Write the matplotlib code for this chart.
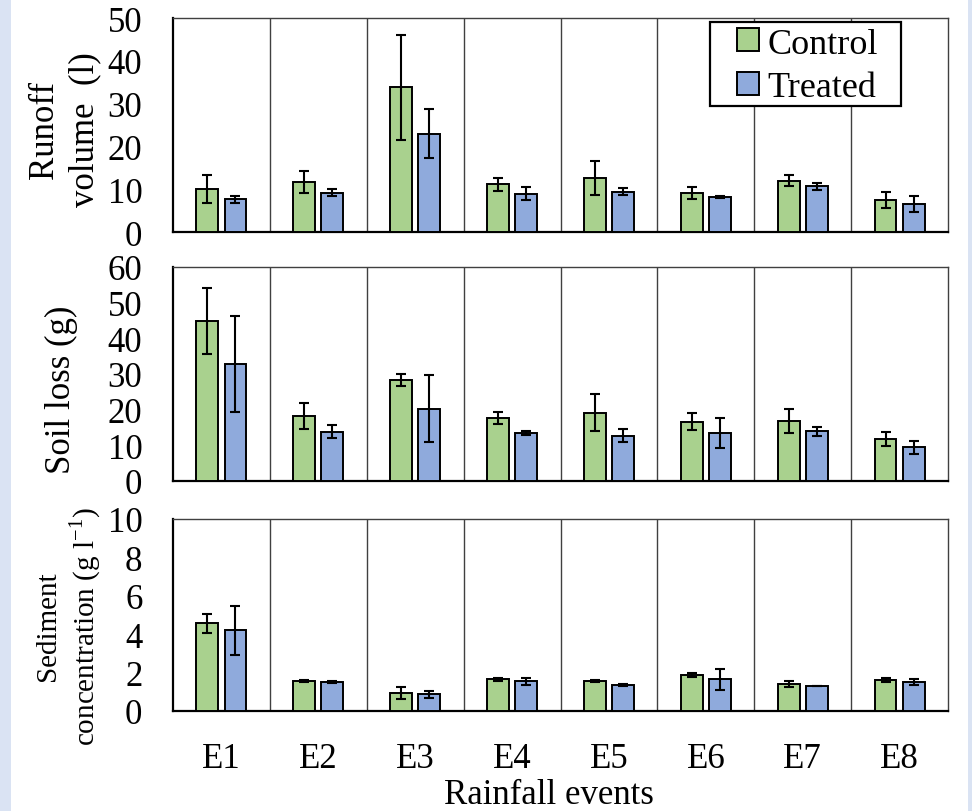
import matplotlib
matplotlib.use("Agg")
import matplotlib.pyplot as plt
import numpy as np
from matplotlib.patches import Rectangle

plt.rcParams['font.family'] = ['Liberation Serif', 'DejaVu Serif']
plt.rcParams['mathtext.fontset'] = 'stix'

events = ["E1", "E2", "E3", "E4", "E5", "E6", "E7", "E8"]
series = ["Control", "Treated"]

runoff_control = [10.0, 11.7, 33.8, 11.1, 12.7, 9.1, 12.0, 7.5]
runoff_control_err = [3.3, 2.5, 12.3, 1.6, 4.0, 1.5, 1.3, 1.9]
runoff_treated = [7.6, 9.2, 23.0, 8.9, 9.4, 8.2, 10.7, 6.5]
runoff_treated_err = [0.8, 0.8, 5.8, 1.5, 0.8, 0.2, 0.8, 1.8]

soil_control = [44.9, 18.3, 28.3, 17.7, 19.2, 16.6, 16.8, 11.8]
soil_control_err = [9.3, 3.6, 1.8, 1.6, 5.2, 2.4, 3.4, 2.0]
soil_treated = [32.8, 13.8, 20.3, 13.5, 12.7, 13.5, 13.9, 9.4]
soil_treated_err = [13.4, 1.8, 9.4, 0.5, 1.8, 4.3, 1.3, 1.8]

sed_control = [4.57, 1.58, 0.94, 1.65, 1.55, 1.88, 1.41, 1.61]
sed_control_err = [0.50, 0.05, 0.30, 0.07, 0.06, 0.12, 0.17, 0.10]
sed_treated = [4.20, 1.51, 0.87, 1.56, 1.37, 1.65, 1.30, 1.51]
sed_treated_err = [1.28, 0.05, 0.17, 0.18, 0.05, 0.54, 0.02, 0.17]

green = '#a9d18e'
blue = '#8faadc'
FS = 25

fig = plt.figure(figsize=(9.72, 8.12), dpi=100)
W, H = 972.0, 812.0

# screenshot side strips
fig.patches.append(Rectangle((0, 0), 11 / W, 1, transform=fig.transFigure,
                             facecolor='#dae3f3', edgecolor='none', zorder=0))
fig.patches.append(Rectangle((968 / W, 0), 4 / W, 1, transform=fig.transFigure,
                             facecolor='#dae3f3', edgecolor='none', zorder=0))

left, right = 173 / W, 948 / W
panels = [
    (19, 233, runoff_control, runoff_control_err, runoff_treated, runoff_treated_err, 50, 10),
    (268, 482, soil_control, soil_control_err, soil_treated, soil_treated_err, 60, 10),
    (520, 712, sed_control, sed_control_err, sed_treated, sed_treated_err, 10, 2),
]

x = np.arange(len(events))
bw = 0.225
off = 0.145
axes = []
for i, (top, bot, c, ce, t, te, ymax, step) in enumerate(panels):
    ax = fig.add_axes([left, 1 - bot / H, right - left, (bot - top) / H])
    axes.append(ax)
    ax.bar(x - off, c, width=bw, color=green, edgecolor='black', linewidth=1.4,
           label=series[0], zorder=3)
    ax.bar(x + off, t, width=bw, color=blue, edgecolor='black', linewidth=1.4,
           label=series[1], zorder=3)
    ax.errorbar(x - off, c, yerr=ce, fmt='none', ecolor='black', elinewidth=1.5,
                capsize=3.8, capthick=1.5, zorder=4)
    ax.errorbar(x + off, t, yerr=te, fmt='none', ecolor='black', elinewidth=1.5,
                capsize=3.8, capthick=1.5, zorder=4)
    for b in np.arange(0.5, len(events) - 0.5, 1.0):
        ax.axvline(b, color='#404040', linewidth=1.0, zorder=1)
    ax.set_xlim(-0.5, len(events) - 0.5)
    ax.set_ylim(0, ymax)
    ax.set_yticks(np.arange(0, ymax + 0.01, step))
    ax.tick_params(axis='y', length=0, pad=22, labelsize=FS)
    ax.tick_params(axis='x', length=0, pad=22, labelsize=FS)
    ax.set_xticks(x)
    if i < 2:
        ax.set_xticklabels([])
    else:
        ax.set_xticklabels(events)
    for s in ['top', 'right']:
        ax.spines[s].set_color('#404040')
        ax.spines[s].set_linewidth(1.0)
    for s in ['left', 'bottom']:
        ax.spines[s].set_color('black')
        ax.spines[s].set_linewidth(1.6)

# legend frame (drawn separately to reproduce its asymmetric padding)
ax0 = axes[0]
frame = Rectangle((710 / W, 1 - 106.5 / H), (901 - 710) / W, (106.5 - 22.5) / H,
                  transform=fig.transFigure, facecolor='white', edgecolor='black',
                  linewidth=1.6, zorder=9)
ax0.add_artist(frame)
frame.set_clip_on(False)
leg = ax0.legend(loc='upper left', bbox_to_anchor=((737 - 173) / 775, 1 - 9.5 / 214),
                 fontsize=FS + 1, frameon=False, handlelength=0.6, handleheight=0.62,
                 handletextpad=0.25, labelspacing=0.3, borderpad=0.0,
                 borderaxespad=0)
leg.set_zorder(10)

fig.text(65 / W, 1 - 130 / H, "Runoff\nvolume  (l)", rotation=90, ha='center',
         va='center', fontsize=FS, linespacing=1.3)
fig.text(61 / W, 1 - 390 / H, "Soil loss (g)", rotation=90, ha='center',
         va='center', fontsize=FS)
fig.text(69 / W, 1 - 626 / H, "Sediment\nconcentration (g l$^{\\mathregular{-1}}$)",
         rotation=90, ha='center', va='center', fontsize=21, linespacing=1.25)
fig.text(549 / W, 1 - 796 / H, "Rainfall events", ha='center', va='center', fontsize=FS)

fig.savefig("out.png", dpi=100)
